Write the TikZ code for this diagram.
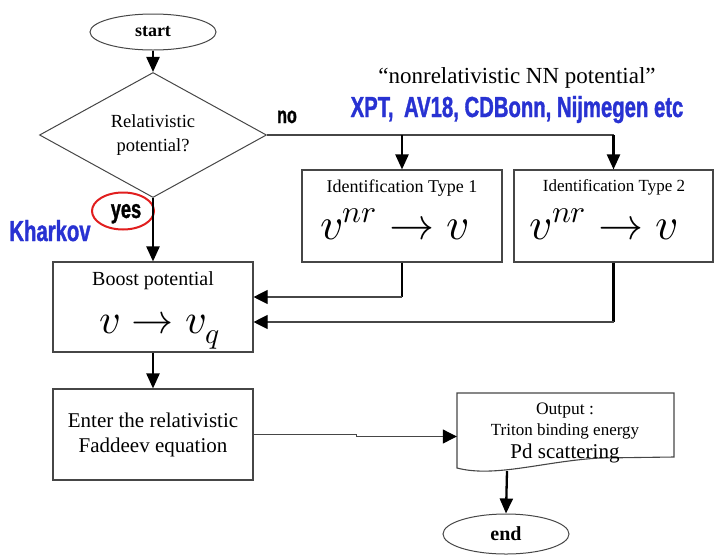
\documentclass[tikz,border=0pt]{standalone}
\usepackage{fontspec}
\usepackage{unicode-math}
\setmainfont{Liberation Serif}
\setmathfont{Latin Modern Math}
\newfontfamily\impactfont[FakeStretch=0.70,BoldFeatures={FakeBold=1.2}]{Liberation Sans}
\usetikzlibrary{shapes.geometric,arrows.meta}
\definecolor{linecol}{RGB}{70,70,70}
\definecolor{kblue}{RGB}{40,50,210}
\definecolor{kred}{RGB}{225,30,30}
\tikzset{
  box/.style={draw=linecol, line width=1.1pt, minimum width=200pt, minimum height=91pt, inner sep=0pt},
  term/.style={ellipse, draw=linecol, line width=1pt, minimum width=126pt, minimum height=36pt, inner sep=0pt, font=\fontsize{18}{20}\selectfont\bfseries},
  dia/.style={diamond, draw=linecol, line width=1pt, minimum width=227pt, minimum height=110pt, inner sep=0pt, align=center, font=\fontsize{18.5}{24}\selectfont},
  thickarrow/.style={line width=2.3pt, -{Triangle[length=15pt,width=13pt]}},
  thickline/.style={line width=2.2pt},
  thinarrow/.style={draw=linecol, line width=1.1pt, -{Triangle[length=14pt,width=14pt,color=black]}},
  thinline/.style={draw=linecol, line width=1.1pt},
  cond/.style={inner sep=0pt, anchor=base, font=\impactfont\bfseries\fontsize{#1}{#1}\selectfont},
  txt/.style={inner sep=0pt, anchor=base, font=\fontsize{#1}{#1}\selectfont},
  mth/.style={inner sep=0pt, anchor=base, font=\fontsize{#1}{#1}\selectfont}
}
\begin{document}
\begin{tikzpicture}[x=1pt,y=-1pt]
\useasboundingbox (0,0) rectangle (714,555);
% nodes
\node[term] (start) at (153,32) {start};
\node[dia] (dec) at (153,135) {Relativistic\\potential?};
\node[box, minimum height=92pt] (t1) at (402,216) {};
\node[box, minimum width=199pt, minimum height=92pt] (t2) at (613.5,216) {};
\node[box, minimum height=90pt] (boost) at (153,307) {};
\node[box] (fad) at (153,434.5) {};
\node[minimum width=217pt, minimum height=75pt, inner sep=0pt] (out) at (565.5,430.5) {};
\node[term, minimum height=40pt, font=\fontsize{20}{22}\selectfont\bfseries] (end) at (506,534) {end};
% output document shape
\draw[thinline] (457,468) -- (457,393) -- (674,393) -- (674,457) -- (600,458)
  .. controls (545,461) and (495,478) .. (457,468) -- cycle;
% texts
\node[txt=23] (nrtitle) at (517,83) {“nonrelativistic NN potential”};
\node[cond=29, text=kblue] (nnlist) at (517,117) {XPT,\, AV18, CDBonn, Nijmegen etc};
\node[cond=23] (no) at (287,123) {no};
\node[cond=26] (yes) at (126,218) {yes};
\node[ellipse, draw=kred, line width=2pt, minimum width=62pt, minimum height=37pt, inner sep=0pt] (yesring) at (123,211) {};
\node[cond=29, text=kblue] (kharkov) at (50,241) {Kharkov};
\node[txt=18] (t1lab) at (402,192) {Identification Type 1};
\node[mth=45] (t1math) at (395,239) {$v^{nr}\rightarrow v$};
\node[txt=17] (t2lab) at (614,191) {Identification Type 2};
\node[mth=45] (t2math) at (604,239) {$v^{nr}\rightarrow v$};
\node[txt=20] (boostlab) at (153,285) {Boost potential};
\node[mth=42] (boostmath) at (160,333) {$v\rightarrow v_q$};
\node[txt=21] (fad1) at (153,427) {Enter the relativistic};
\node[txt=21] (fad2) at (153,452) {Faddeev equation};
\node[txt=17.5] (out1) at (565,414) {Output :};
\node[txt=17] (out2) at (565,435) {Triton binding energy};
\node[txt=21] (out3) at (565,458) {Pd scattering};
% connectors
\draw[thickarrow] (start.south) -- (dec.north);
\draw[thickarrow] (dec.south) -- (boost.north);
\coordinate (j1) at (t1.north |- dec.east);
\coordinate (j2) at (t2.north |- dec.east);
\draw[thinline] (dec.east) -- (j2);
\draw[thickarrow] (j1) -- (t1.north);
\draw[thickarrow] (j2) -- (t2.north);
\coordinate (b1) at ([yshift=10pt]boost.east);
\coordinate (b2) at ([yshift=-15pt]boost.east);
\coordinate (k1) at (t1.south |- b1);
\coordinate (k2) at (t2.south |- b2);
\draw[thickline] (t1.south) -- (k1);
\draw[thinarrow] (k1) -- (b1);
\draw[thickline] (t2.south) -- (k2);
\draw[thinarrow] (k2) -- (b2);
\draw[thickarrow] (boost.south) -- (fad.north);
\coordinate (m1) at ([xshift=103pt]fad.east);
\coordinate (m2) at ([yshift=-2pt]m1);
\draw[thinarrow] (fad.east) -- (m1) -- (m2) -- (out.west |- m2);
\coordinate (o1) at (507,471);
\draw[thickarrow] (o1) -- (end.north);
\end{tikzpicture}
\end{document}
